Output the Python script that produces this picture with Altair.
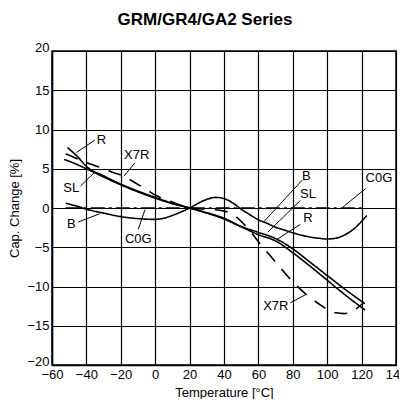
import altair as alt
import pandas as pd

# ---- data ----
r_x = [-51, -45, -40, -30, -20, -10, 0, 10, 20, 30, 40, 50, 60, 70, 80, 90, 100, 110, 122]
r_y = [7.7, 6.5, 5.3, 4.1, 3.05, 2.15, 1.35, 0.6, 0, -0.65, -1.4, -2.4, -3.4, -4.2, -5.7, -7.4, -9.2, -11.0, -13.0]

sl_x = [-53, -45, -40, -30, -20, -10, 0, 10, 20, 30, 40, 50, 60, 70, 80, 90, 100, 110, 122]
sl_y = [6.2, 5.5, 5.0, 3.95, 2.95, 2.05, 1.25, 0.55, 0, -0.6, -1.3, -2.35, -3.1, -3.9, -5.2, -6.9, -8.6, -10.3, -12.2]

x7r_x = [-52, -40, -30, -25, -20, -15, -10, -5, 0, 5, 10, 15, 20, 30, 40, 45, 50, 55, 60, 65, 70, 80, 90, 95, 100, 105, 110, 115, 121]
x7r_y = [6.9, 5.8, 5.0, 4.55, 4.2, 3.65, 3.0, 2.35, 1.65, 1.15, 0.75, 0.35, 0, -0.15, -0.4, -0.8, -1.7, -2.9, -4.3, -5.6, -6.9, -9.4, -11.4, -12.2, -12.9, -13.35, -13.45, -13.1, -12.1]

b_x = [-52, -45, -40, -30, -20, -10, 0, 5, 10, 15, 20, 25, 30, 35, 40, 45, 50, 55, 60, 65, 70, 75, 80, 85, 90, 95, 100, 105, 110, 115, 120, 123]
b_y = [0.6, 0.2, -0.15, -0.65, -1.1, -1.35, -1.45, -1.3, -0.95, -0.5, 0, 0.6, 1.1, 1.35, 1.2, 0.65, -0.15, -0.85, -1.5, -1.95, -2.45, -2.8, -3.15, -3.45, -3.7, -3.85, -3.95, -3.85, -3.45, -2.75, -1.7, -0.95]

c0g_x = [-52, 122]
c0g_y = [0, 0]

label_text = ["R", "X7R", "SL", "B", "C0G", "B", "SL", "R", "C0G", "X7R"]
label_x = [-31.2, -10.8, -48.8, -48.7, -9.85, 87.9, 88.8, 88.8, 130.1, 70.1]
label_y = [8.66, 6.78, 2.56, -2.0, -3.93, 4.09, 1.73, -1.23, 3.84, -12.44]

lead_x1 = [-35.1, -11.8, -43.4, -44.8, -9.85, 85.4, 84.4, 84.4, 122.3, 78.6]
lead_y1 = [8.66, 5.75, 2.81, -1.79, -2.72, 3.54, 0.96, -2.08, 2.47, -12.08]
lead_x2 = [-45.8, -18.2, -35.1, -32.2, -5.9, 63.0, 65.5, 69.9, 108.8, 87.3]
lead_y2 = [7.07, 4.05, 4.57, -0.73, -0.19, -1.79, -3.07, -4.13, 0.06, -11.06]

x_ticks = list(range(-60, 141, 20))
y_ticks = list(range(-20, 21, 5))

series = [("R", r_x, r_y), ("SL", sl_x, sl_y), ("X7R", x7r_x, x7r_y),
          ("B", b_x, b_y), ("C0G", c0g_x, c0g_y)]
rows = []
for name, xs, ys in series:
    for xv, yv in zip(xs, ys):
        rows.append({"series": name, "t": xv, "c": yv})
curves = pd.DataFrame(rows)
labels = pd.DataFrame({"text": label_text, "t": label_x, "c": label_y})
leaders = pd.DataFrame({"t": lead_x1, "c": lead_y1, "t2": lead_x2, "c2": lead_y2})

FONT = "Liberation Sans"

xscale = alt.Scale(domain=[-60, 140], nice=False, zero=False)
yscale = alt.Scale(domain=[-20, 20], nice=False, zero=False)
xaxis = alt.Axis(values=x_ticks, title="Temperature [°C]", labelFlush=False,
                 labelOverlap=False, grid=True, ticks=False, labelPadding=3, titlePadding=5)
yaxis = alt.Axis(values=y_ticks, title="Cap. Change [%]", grid=True, ticks=False,
                 labelOverlap=False, labelPadding=3, titlePadding=5,
                 labelBaseline={"condition": {"test": "abs(datum.value) == 20", "value": "alphabetic"},
                                "value": "middle"})

X = alt.X("t:Q", scale=xscale, axis=xaxis)
Y = alt.Y("c:Q", scale=yscale, axis=yaxis)

lines = alt.Chart(curves).mark_line(color="black", strokeWidth=1.6, interpolate="monotone").encode(
    x=X, y=Y,
    strokeDash=alt.StrokeDash("series:N", legend=None,
        scale=alt.Scale(domain=["R", "SL", "X7R", "B", "C0G"],
                        range=[[1, 0], [1, 0], [13, 10], [1, 0], [14, 4, 3, 4]])),
    detail="series:N",
)

leader = alt.Chart(leaders).mark_rule(color="black", strokeWidth=1).encode(
    x=X, y=Y, x2="t2:Q", y2="c2:Q")

text = alt.Chart(labels).mark_text(font=FONT, fontSize=13, color="black",
                                   align="center", baseline="middle").encode(
    x=X, y=Y, text="text:N")

chart = alt.layer(lines, leader, text).properties(
    width=344, height=314,
    autosize=alt.AutoSizeParams(type="none"),
    padding={"left": 44, "top": 43, "right": 3, "bottom": 34},
    title=alt.Title("GRM/GR4/GA2 Series", font=FONT, fontSize=17, fontWeight="bold",
                    color="black", anchor="middle", dx=-19, dy=5, offset=17),
).configure_view(stroke="black", strokeWidth=1.5).configure_axis(
    labelFont=FONT, titleFont=FONT, labelFontSize=13, titleFontSize=13,
    titleFontWeight="normal", labelColor="black", titleColor="black",
    domainColor="black", domainWidth=1.5, gridColor="black", gridOpacity=1, gridWidth=1.2,
)

chart.save("out.html", embed_options={"renderer": "svg", "actions": False})
